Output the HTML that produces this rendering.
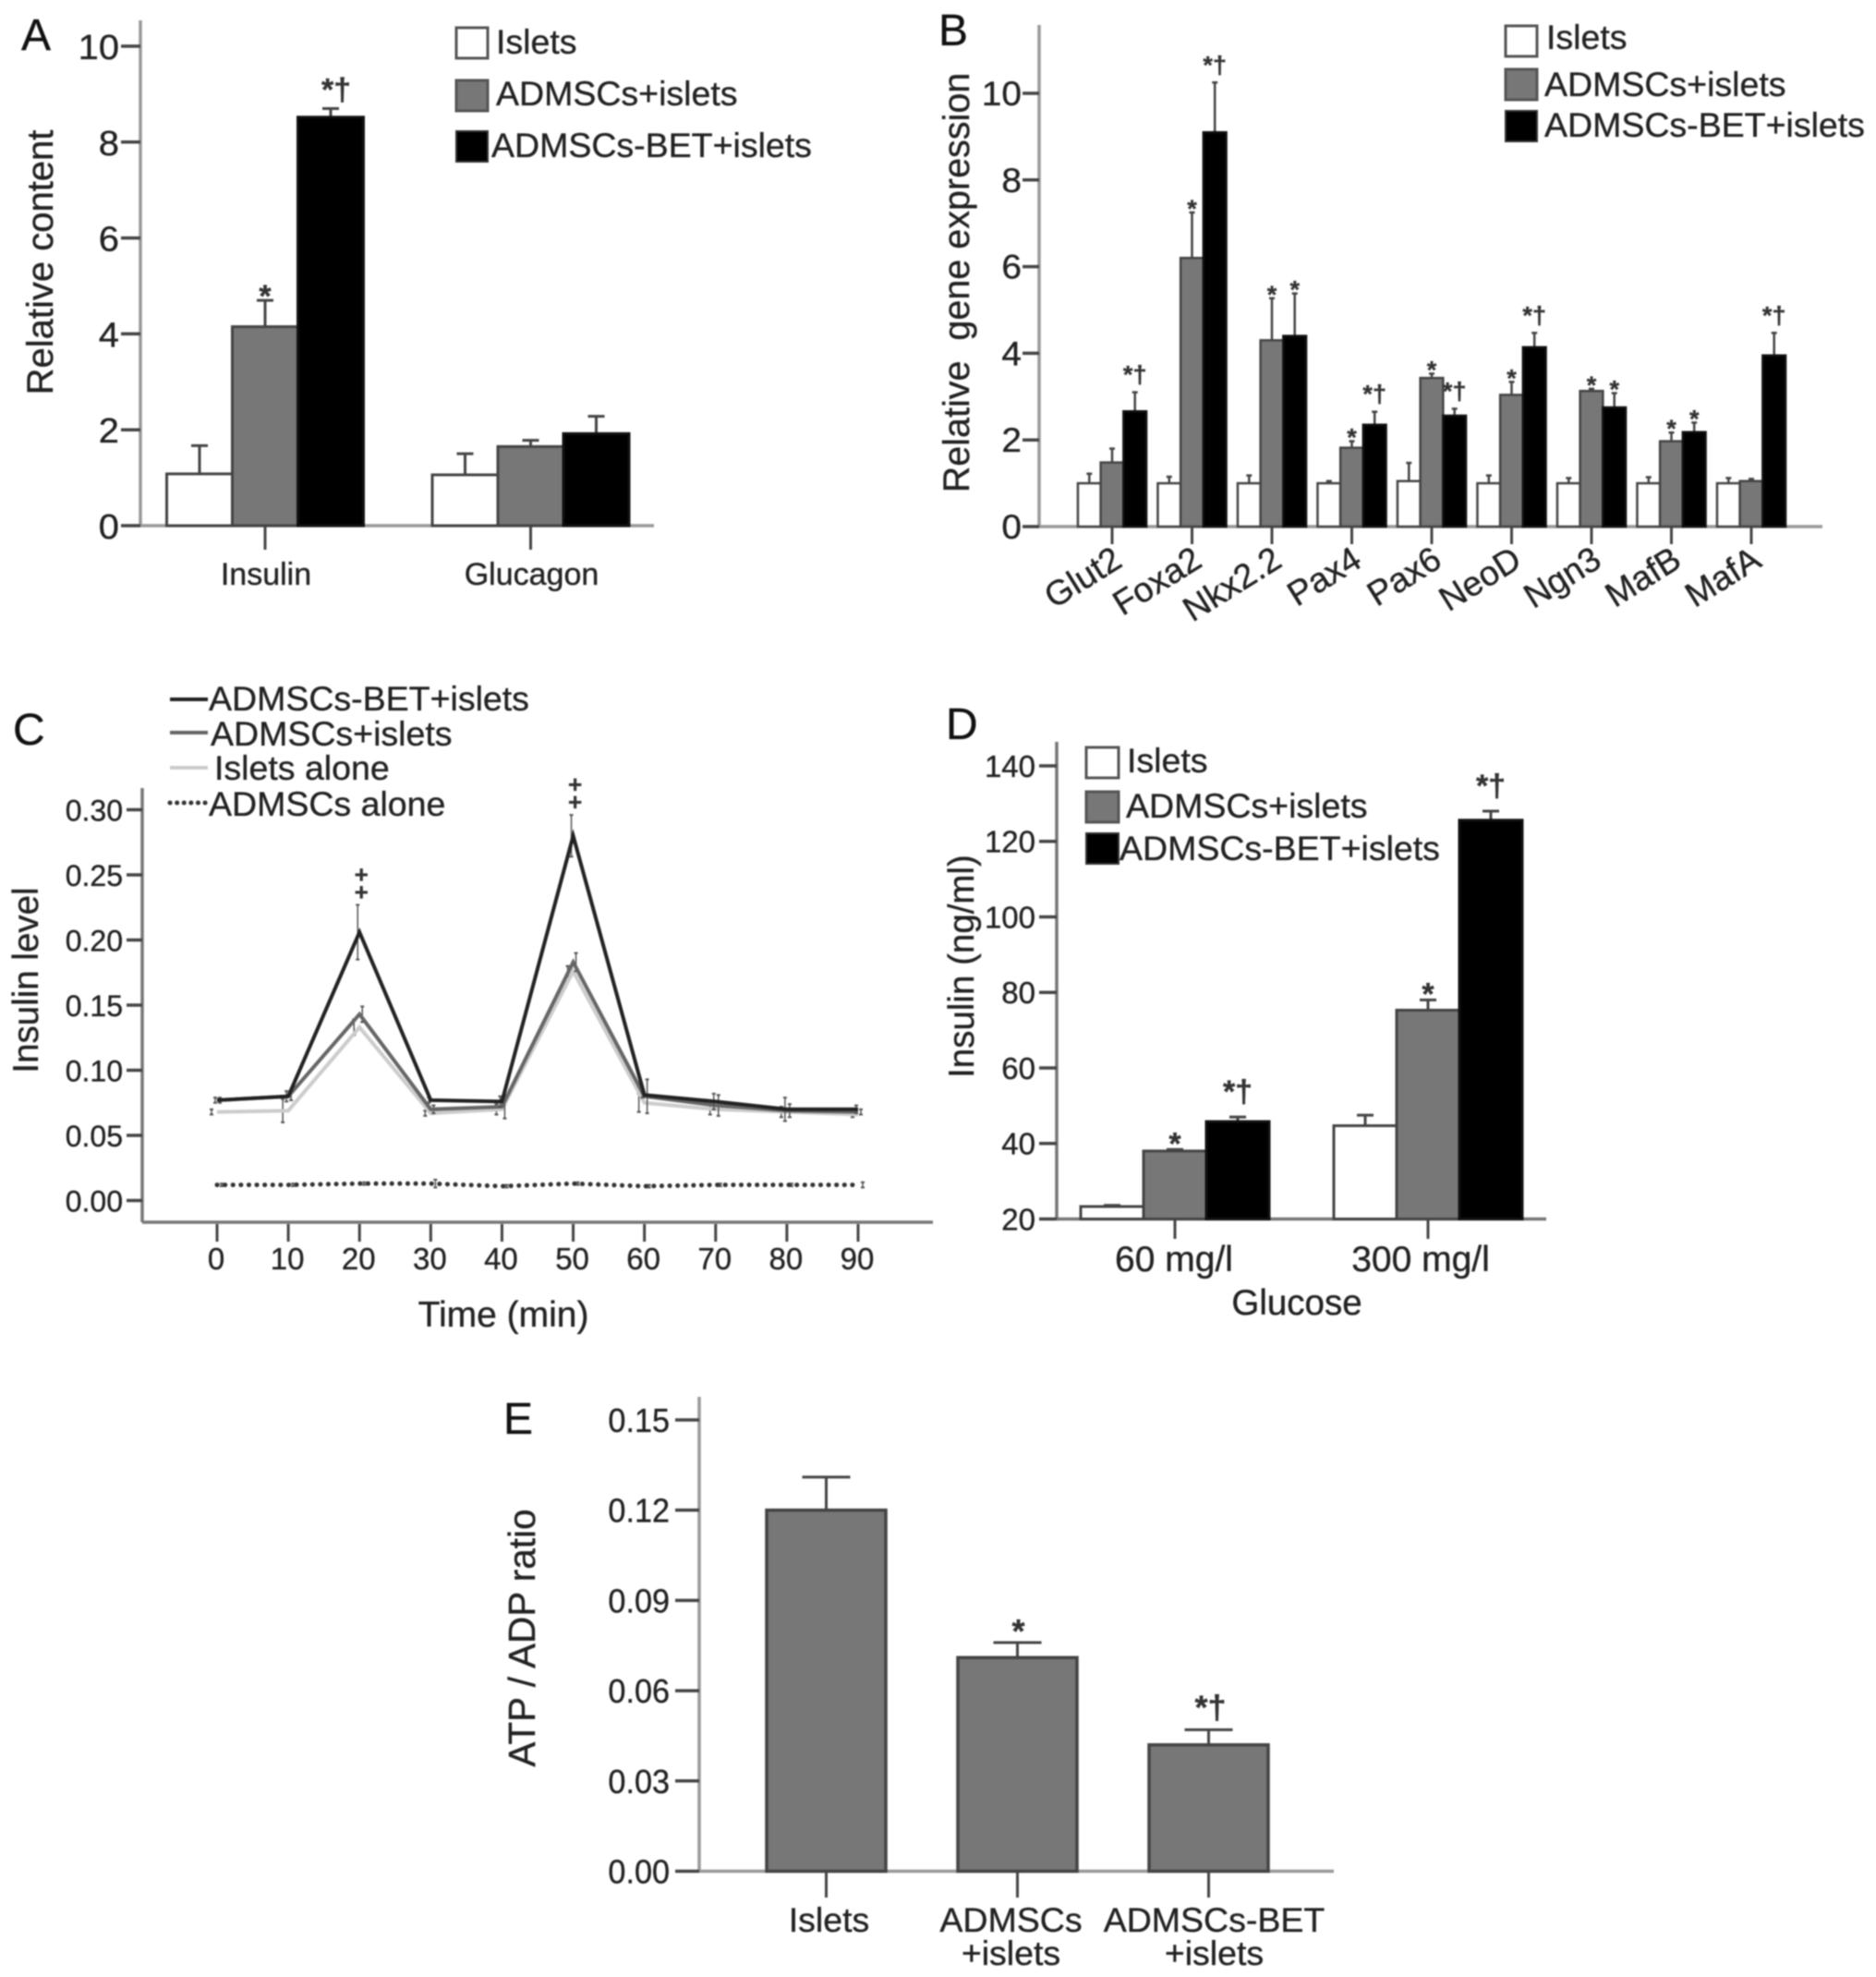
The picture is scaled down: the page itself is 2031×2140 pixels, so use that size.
<!DOCTYPE html>
<html lang="en">
<head>
<meta charset="utf-8">
<title>Islet function panels A-E</title>
<style>
html,body{margin:0;padding:0;background:#fff;width:2031px;height:2140px;overflow:hidden}
svg{display:block;filter:blur(.7px)}
text{font-family:"Liberation Sans",sans-serif;fill:#222;stroke:#222;stroke-width:.35px}
.leg{font-size:37.5px}
.title{font-size:38.5px}
.letter{font-size:48px;fill:#111}
</style>
</head>
<body>
<svg id="fig" xmlns="http://www.w3.org/2000/svg" width="2031" height="2140" viewBox="0 0 2031 2140">
  <g id="panelA">
    <text class="letter" x="23" y="54">A</text>
    <text class="title" style="font-size:40px" transform="translate(57,284) rotate(-90)" text-anchor="middle">Relative content</text>
    <rect x="494" y="30" width="34" height="33" fill="#fff" stroke="#555" stroke-width="3"/>
    <rect x="494" y="87" width="34" height="33" fill="#777" stroke="#555" stroke-width="3"/>
    <rect x="494" y="142" width="34" height="33" fill="#000" stroke="#333" stroke-width="2"/>
    <text class="leg" x="537" y="58">Islets</text>
    <text class="leg" x="537" y="114">ADMSCs+islets</text>
    <text class="leg" x="532" y="170">ADMSCs-BET+islets</text>
  </g>
  <g id="panelB">
    <text class="letter" x="1016" y="49">B</text>
    <text class="title" style="font-size:39.5px" transform="translate(1049,306) rotate(-90)" text-anchor="middle">Relative&#160; gene expression</text>
    <rect x="1630" y="28" width="34" height="33" fill="#fff" stroke="#555" stroke-width="3"/>
    <rect x="1630" y="75" width="34" height="33" fill="#777" stroke="#555" stroke-width="3"/>
    <rect x="1630" y="120" width="34" height="33" fill="#000" stroke="#333" stroke-width="2"/>
    <text class="leg" x="1674" y="53">Islets</text>
    <text class="leg" x="1672" y="104">ADMSCs+islets</text>
    <text class="leg" x="1672" y="148">ADMSCs-BET+islets</text>
  </g>
  <g id="panelC">
    <text class="letter" x="14" y="806">C</text>
    <text class="title" transform="translate(41,1061) rotate(-90)" text-anchor="middle">Insulin level</text>
    <text class="title" style="font-size:39px" x="545" y="1436" text-anchor="middle">Time (min)</text>
    <line x1="184" y1="757" x2="225" y2="757" stroke="#222" stroke-width="4"/>
    <line x1="184" y1="793" x2="225" y2="793" stroke="#666" stroke-width="4"/>
    <line x1="184" y1="831" x2="225" y2="831" stroke="#ccc" stroke-width="4"/>
    <line x1="184" y1="869" x2="225" y2="869" stroke="#333" stroke-width="5" stroke-linecap="round" stroke-dasharray="0.1 7.5"/>
    <text class="leg" x="226" y="769">ADMSCs-BET+islets</text>
    <text class="leg" x="228" y="807">ADMSCs+islets</text>
    <text class="leg" x="232" y="844">Islets alone</text>
    <text class="leg" x="226" y="883">ADMSCs alone</text>
  </g>
  <g id="panelD">
    <text class="letter" x="1024" y="800">D</text>
    <text class="title" transform="translate(1054,1046) rotate(-90)" text-anchor="middle">Insulin (ng/ml)</text>
    <text class="title" x="1404" y="1423" text-anchor="middle">Glucose</text>
    <rect x="1176" y="809" width="35" height="33" fill="#fff" stroke="#555" stroke-width="3"/>
    <rect x="1176" y="857" width="35" height="33" fill="#777" stroke="#555" stroke-width="3"/>
    <rect x="1176" y="902" width="35" height="33" fill="#000" stroke="#333" stroke-width="2"/>
    <text class="leg" x="1220" y="836">Islets</text>
    <text class="leg" x="1219" y="885">ADMSCs+islets</text>
    <text class="leg" x="1212" y="931">ADMSCs-BET+islets</text>
  </g>
  <g id="panelE">
    <text class="letter" x="545" y="1552">E</text>
    <text class="title" style="font-size:40.5px" transform="translate(579,1773) rotate(-90)" text-anchor="middle">ATP / ADP ratio</text>
  </g>
</svg>
<script>
// ---------- Panel A data ----------
const aCategories = ['Insulin', 'Glucagon'];
const aIslets = [1.08, 1.06];
const aAdmscs = [4.15, 1.65];
const aBet = [8.52, 1.92];
const aIsletsTop = [1.67, 1.5];
const aAdmscsTop = [4.7, 1.78];
const aBetTop = [8.7, 2.28];
const aAdmscsMarks = ['*', ''];
const aBetMarks = ['*†', ''];
const aTicks = [0, 2, 4, 6, 8, 10];

// ---------- Panel B data ----------
const bCategories = ['Glut2', 'Foxa2', 'Nkx2.2', 'Pax4', 'Pax6', 'NeoD', 'Ngn3', 'MafB', 'MafA'];
const bIslets = [1.0, 1.0, 1.0, 1.0, 1.05, 1.0, 1.0, 1.0, 1.0];
const bAdmscs = [1.48, 6.2, 4.3, 1.82, 3.43, 3.04, 3.13, 1.97, 1.05];
const bBet = [2.66, 9.1, 4.4, 2.35, 2.56, 4.14, 2.75, 2.18, 3.95];
const bIsletsTop = [1.22, 1.15, 1.18, 1.05, 1.47, 1.18, 1.12, 1.14, 1.12];
const bAdmscsTop = [1.8, 7.25, 5.27, 1.97, 3.53, 3.34, 3.18, 2.17, 1.1];
const bBetTop = [3.1, 10.25, 5.38, 2.65, 2.72, 4.47, 3.08, 2.4, 4.47];
const bAdmscsMarks = ['', '*', '*', '*', '*', '*', '*', '*', ''];
const bBetMarks = ['*†', '*†', '*', '*†', '*†', '*†', '*', '*', '*†'];
const bTicks = [0, 2, 4, 6, 8, 10];

// ---------- Panel C data ----------
const cTimes = [0, 10, 20, 30, 40, 50, 60, 70, 80, 90];
const cBet = [0.077, 0.08, 0.206, 0.077, 0.076, 0.28, 0.081, 0.076, 0.07, 0.07];
const cAdmscs = [0.077, 0.08, 0.143, 0.07, 0.072, 0.183, 0.08, 0.073, 0.069, 0.068];
const cIslets = [0.068, 0.069, 0.133, 0.067, 0.07, 0.176, 0.075, 0.07, 0.068, 0.066];
const cAlone = [0.012, 0.012, 0.013, 0.013, 0.011, 0.013, 0.011, 0.012, 0.012, 0.012];
const cBetErr = [0.002, 0.004, 0.021, 0.002, 0.004, 0.016, 0.002, 0.006, 0.009, 0.003];
const cAdmscsErr = [0.002, 0.003, 0.006, 0.003, 0.009, 0.007, 0.013, 0.008, 0.005, 0.002];
const cIsletsErr = [0.002, 0.009, 0.006, 0.002, 0.004, 0.004, 0.007, 0.004, 0.004, 0.002];
const cAloneErr = [0.001, 0.001, 0.001, 0.003, 0.001, 0.001, 0.001, 0.001, 0.001, 0.002];
const cPeakMarks = ['', '', '+', '', '', '+', '', '', '', ''];
const cYTicks = [0, 0.05, 0.1, 0.15, 0.2, 0.25, 0.3];

// ---------- Panel D data ----------
const dCategories = ['60 mg/l', '300 mg/l'];
const dIslets = [23.3, 44.7];
const dAdmscs = [38, 75.3];
const dBet = [45.8, 125.6];
const dIsletsTop = [23.6, 47.5];
const dAdmscsTop = [38.4, 78];
const dBetTop = [47, 128];
const dAdmscsMarks = ['*', '*'];
const dBetMarks = ['*†', '*†'];
const dTicks = [20, 40, 60, 80, 100, 120, 140];

// ---------- Panel E data ----------
const eCategories = [['Islets'], ['ADMSCs', '+islets'], ['ADMSCs-BET', '+islets']];
const eValues = [0.12, 0.071, 0.042];
const eTops = [0.131, 0.076, 0.047];
const eMarks = ['', '*', '*†'];
const eTicks = [0, 0.03, 0.06, 0.09, 0.12, 0.15];

// ---------- helpers ----------
const NS = 'http://www.w3.org/2000/svg';
function make(tag, attrs, parent, name) {
  const el = document.createElementNS(NS, tag);
  for (const k in attrs) el.setAttribute(k, attrs[k]);
  
  
  parent.appendChild(el);
  return el;
}
function label(parent, name, str, x, y, size, anchor, sx, rot, fill, weight) {
  let t = 'translate(' + x + ',' + y + ')';
  if (rot) t += ' rotate(' + rot + ')';
  if (sx && sx !== 1) t += ' scale(' + sx + ',1)';
  const el = make('text', {transform: t, 'font-size': size, 'text-anchor': anchor || 'middle'}, parent, name);
  if (fill) el.setAttribute('style', 'fill:' + fill + ';stroke:' + fill);
  if (weight) el.setAttribute('font-weight', weight);
  el.textContent = str;
  return el;
}
function hline(parent, name, x1, y1, x2, y2, color, w) {
  return make('line', {x1: x1, y1: y1, x2: x2, y2: y2, stroke: color, 'stroke-width': w}, parent, name);
}
const FILLS = ['#fff', '#777', '#000'];
const EDGES = ['#444', '#444', '#111'];
const KEYS = ['islets', 'admscs', 'bet'];

function drawAxes(g, id, o) {
  hline(g, 'y-axis-' + id, o.axisX, o.axisTop, o.axisX, o.baseY, o.axisColor || '#999', 3.5);
  hline(g, 'x-axis-' + id, o.axisX, o.baseY, o.axisEnd, o.baseY, o.axisColor || '#999', 3.5);
  o.ticks.forEach(function (v) {
    const y = o.sy(v);
    hline(g, 'y-tick-' + id, o.tickLeft, y, o.axisX, y, '#444', 3.5);
    label(g, 'y-tick-label-' + id, o.fmt(v), o.labelRight, y + o.labelDy, o.labelSize, 'end', o.labelSx);
  });
}
function drawGroupedBars(g, id, o, values, tops, marks) {
  values.forEach(function (series, s) {
    series.forEach(function (v, i) {
      const cx = o.groupX(i) + (s - 1) * o.barW;
      const top = o.sy(v);
      const errTop = o.sy(tops[s][i]);
      hline(g, 'error-bar-' + id + '-' + KEYS[s], cx, top, cx, errTop, '#444', o.errW);
      hline(g, 'error-cap-' + id + '-' + KEYS[s], cx - o.capW, errTop, cx + o.capW, errTop, '#444', o.errW);
      make('rect', {x: cx - o.barW / 2, y: top, width: o.barW, height: o.baseY - top, fill: FILLS[s], stroke: EDGES[s], 'stroke-width': o.edgeW}, g, 'bar-' + id + '-' + KEYS[s]);
      const m = marks[s][i];
      if (m) {
        const isStar = m === '*';
        label(g, 'significance-mark-' + id, m, cx + (isStar ? 0 : o.daggerDx), errTop + (isStar ? o.starDy : o.daggerDy), o.markSize, 'middle', 1, 0, '#333', 'bold');
      }
    });
  });
}

// ---------- Panel A ----------
(function () {
  const g = document.getElementById('panelA');
  const sy = function (v) { return 569 - v * 51.9; };
  const groupX = function (i) { return 287 + i * 287.5; };
  const o = {axisX: 152, axisTop: 22, axisEnd: 708, baseY: 569, tickLeft: 131, ticks: aTicks, sy: sy, fmt: String, labelRight: 129, labelDy: 14, labelSize: 38, labelSx: 1.05, groupX: groupX, barW: 71, errW: 3, capW: 9, edgeW: 3, markSize: 34, starDy: 7, daggerDy: -9, daggerDx: 6};
  drawAxes(g, 'a', o);
  drawGroupedBars(g, 'a', o, [aIslets, aAdmscs, aBet], [aIsletsTop, aAdmscsTop, aBetTop], [['', ''], aAdmscsMarks, aBetMarks]);
  aCategories.forEach(function (c, i) {
    hline(g, 'x-tick-a', groupX(i), 569, groupX(i), 595, '#444', 3);
    label(g, 'x-tick-label-a', c, groupX(i) + 1, 633, 34);
  });
})();

// ---------- Panel B ----------
(function () {
  const g = document.getElementById('panelB');
  const sy = function (v) { return 570 - v * 46.9; };
  const groupX = function (i) { return 1204 + i * 86.5; };
  const o = {axisX: 1125, axisTop: 27, axisEnd: 1973, baseY: 570, tickLeft: 1107, ticks: bTicks, sy: sy, fmt: String, labelRight: 1106, labelDy: 13, labelSize: 37, labelSx: 1.05, groupX: groupX, barW: 24.7, errW: 2.5, capW: 3, edgeW: 2.5, markSize: 27, starDy: 5, daggerDy: -10, daggerDx: 0};
  drawAxes(g, 'b', o);
  drawGroupedBars(g, 'b', o, [bIslets, bAdmscs, bBet], [bIsletsTop, bAdmscsTop, bBetTop], [bCategories.map(function () { return ''; }), bAdmscsMarks, bBetMarks]);
  bCategories.forEach(function (c, i) {
    hline(g, 'x-tick-b', groupX(i), 570, groupX(i), 589, '#444', 3);
    label(g, 'x-tick-label-b', c, groupX(i) + 13, 612, 37.5, 'end', 1, -32);
  });
})();

// ---------- Panel C ----------
(function () {
  const g = document.getElementById('panelC');
  const baseY = 1323;
  const sy = function (v) { return 1299.5 - v * 1410; };
  const sx = function (t) { return 235 + t * 7.711; };
  const o = {axisX: 154, axisTop: 853, axisEnd: 1010, baseY: baseY, tickLeft: 137, ticks: cYTicks, sy: sy, fmt: function (v) { return v.toFixed(2); }, labelRight: 133, labelDy: 12, labelSize: 32, labelSx: 1, axisColor: '#777'};
  drawAxes(g, 'c', o);
  cTimes.forEach(function (t) {
    hline(g, 'x-tick-c', sx(t), 1325, sx(t), 1344, '#444', 3);
    label(g, 'x-tick-label-c', String(t), sx(t) - 1, 1374, 33);
  });
  const series = [
    {key: 'islets-alone', vals: cIslets, errs: cIsletsErr, color: '#ccc', dx: -6, w: 4},
    {key: 'admscs-islets', vals: cAdmscs, errs: cAdmscsErr, color: '#666', dx: 3, w: 4},
    {key: 'bet-islets', vals: cBet, errs: cBetErr, color: '#222', dx: -2, w: 4},
    {key: 'admscs-alone', vals: cAlone, errs: cAloneErr, color: '#333', dx: 5, w: 5, dash: '0.1 8.5'}
  ];
  series.forEach(function (s) {
    s.vals.forEach(function (v, i) {
      const x = sx(cTimes[i]) + s.dx;
      hline(g, 'error-bar-' + s.key, x, sy(v + s.errs[i]), x, sy(v - s.errs[i]), '#555', 1.5);
      hline(g, 'error-cap-' + s.key, x - 2, sy(v + s.errs[i]), x + 2, sy(v + s.errs[i]), '#555', 2);
      hline(g, 'error-cap-' + s.key, x - 2, sy(v - s.errs[i]), x + 2, sy(v - s.errs[i]), '#555', 2);
    });
    const pts = s.vals.map(function (v, i) { return sx(cTimes[i]) + ',' + sy(v); }).join(' ');
    const attrs = {points: pts, fill: 'none', stroke: s.color, 'stroke-width': s.w, 'stroke-linejoin': 'miter'};
    if (s.dash) {
      attrs['stroke-dasharray'] = s.dash;
      attrs['stroke-linecap'] = 'round';
    }
    make('polyline', attrs, g, 'line-' + s.key);
  });
  cPeakMarks.forEach(function (m, i) {
    if (!m) return;
    const x = sx(cTimes[i]) + 2;
    const y = sy(cBet[i] + cBetErr[i]);
    label(g, 'significance-mark-c', m, x, y - 5, 26, 'middle', 1, 0, '#333', 'bold');
    label(g, 'significance-mark-c', m, x, y - 24, 26, 'middle', 1, 0, '#333', 'bold');
  });
})();

// ---------- Panel D ----------
(function () {
  const g = document.getElementById('panelD');
  const sy = function (v) { return 1319.5 - (v - 20) * 4.088; };
  const groupX = function (i) { return 1272 + i * 274; };
  const o = {axisX: 1144, axisTop: 803, axisEnd: 1674, baseY: 1319.5, tickLeft: 1125, ticks: dTicks, sy: sy, fmt: String, labelRight: 1121, labelDy: 12, labelSize: 33, labelSx: 1, groupX: groupX, barW: 68, errW: 3, capW: 9, edgeW: 3, markSize: 34, starDy: 5, daggerDy: -16, daggerDx: 0, axisColor: '#777'};
  drawAxes(g, 'd', o);
  drawGroupedBars(g, 'd', o, [dIslets, dAdmscs, dBet], [dIsletsTop, dAdmscsTop, dBetTop], [['', ''], dAdmscsMarks, dBetMarks]);
  dCategories.forEach(function (c, i) {
    hline(g, 'x-tick-d', groupX(i), 1319.5, groupX(i), 1341, '#444', 3);
    label(g, 'x-tick-label-d', c, groupX(i) + (i ? -8 : -1), 1376, 39);
  });
})();

// ---------- Panel E ----------
(function () {
  const g = document.getElementById('panelE');
  const sy = function (v) { return 2025.5 - v * 3257; };
  const sx = function (i) { return 894.5 + i * 207; };
  const o = {axisX: 757, axisTop: 1512, axisEnd: 1444, baseY: 2025.5, tickLeft: 731, ticks: eTicks, sy: sy, fmt: function (v) { return v.toFixed(2); }, labelRight: 725, labelDy: 13, labelSize: 36, labelSx: 0.95};
  drawAxes(g, 'e', o);
  eValues.forEach(function (v, i) {
    const cx = sx(i);
    const top = sy(v);
    const errTop = sy(eTops[i]);
    hline(g, 'error-bar-e', cx, top, cx, errTop, '#444', 3);
    hline(g, 'error-cap-e', cx - 26, errTop, cx + 26, errTop, '#444', 3);
    make('rect', {x: cx - 64.5, y: top, width: 129, height: 2025.5 - top, fill: '#777', stroke: '#444', 'stroke-width': 3.5}, g, 'bar-e');
    hline(g, 'x-tick-e', cx, 2025.5, cx, 2054, '#444', 3);
    if (eMarks[i]) {
      const star = eMarks[i] === '*';
      label(g, 'significance-mark-e', eMarks[i], cx + (star ? 1 : 2), errTop + (star ? 0 : -12), 36, 'middle', 1, 0, '#333', 'bold');
    }
    const offs = [3, -7, 6];
    eCategories[i].forEach(function (line, j) {
      label(g, 'x-tick-label-e', line, cx + offs[i], 2091 + j * 36, 37.5);
    });
  });
})();
</script>
</body>
</html>
